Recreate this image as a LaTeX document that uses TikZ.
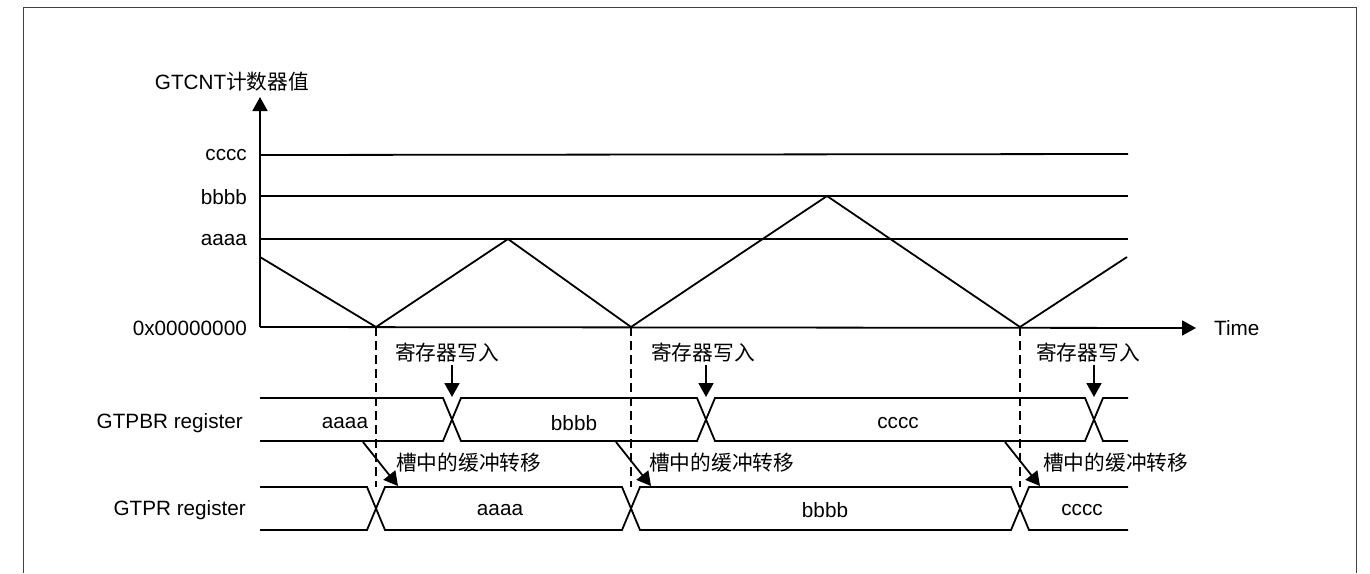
\documentclass[tikz,border=0pt]{standalone}
\usepackage{fontspec}
\setmainfont{Liberation Sans}
\newfontfamily\cjk{Noto Sans CJK SC}
\usetikzlibrary{arrows.meta,positioning,calc}

\begin{document}
\begin{tikzpicture}[
  x=1pt, y=-1pt,
  font=\fontsize{20.7}{24}\selectfont,
  sig/.style={line width=1.8pt, line join=miter},
  dashline/.style={line width=1.8pt, dash pattern=on 9pt off 5pt},
  arr/.style={-{Triangle[length=14pt,width=15pt]}, line width=1.8pt},
  lbl/.style={inner sep=2pt},
  frame/.style={draw=black!75, line width=1pt},
]
\useasboundingbox (0,0) rectangle (1370,573);
\draw[frame] (23,573) -- (23,7) -- (1356,7) -- (1356,573);

% counter axes
\coordinate (origin) at (260,327);
\coordinate (ytip) at (260,97);
\node[lbl] (ylabel) at (232,82) {GTCNT{\cjk 计数器值}};
\node[lbl, anchor=west] (time) at (1212,328) {Time};
\draw[arr] (origin) -- (ytip);
\draw[arr] (origin) -- ([xshift=-16pt]time.west);

% compare levels
\node[lbl, anchor=east] (lvc) at (249,155) {cccc};
\node[lbl, anchor=east] (lvb) at (249,197) {bbbb};
\node[lbl, anchor=east] (lva) at (249,240) {aaaa};
\node[lbl, anchor=east] (lvz) at (249,328) {0x00000000};
\draw[sig] (lvc.east -| origin) -- (1128,154);
\draw[sig] (260,196) -- (1128,196);
\draw[sig] (260,239) -- (1128,239);

% counter value
\coordinate (m1) at (376,327);
\coordinate (m2) at (631,327);
\coordinate (m3) at (1020,327);
\draw[sig] (260,257) -- (m1) -- (508,239) -- (m2) -- (827,196) -- (m3) -- (1127,257);

% registers
\node[lbl, anchor=east] (gtpbr) at (245,423) {GTPBR register};
\node[lbl, anchor=east] (gtpr) at (248,510) {GTPR register};

\draw[sig] (260,398) -- (443,398) -- (461,441) -- (697,441) -- (715,398) -- (1085,398) -- (1103,441) -- (1128,441);
\draw[sig] (260,441) -- (443,441) -- (461,398) -- (697,398) -- (715,441) -- (1085,441) -- (1103,398) -- (1128,398);
\draw[sig] (260,487) -- (367,487) -- (385,530) -- (622,530) -- (640,487) -- (1011,487) -- (1029,530) -- (1128,530);
\draw[sig] (260,530) -- (367,530) -- (385,487) -- (622,487) -- (640,530) -- (1011,530) -- (1029,487) -- (1128,487);

\node[lbl] (pb1) at (345,423) {aaaa};
\node[lbl] (pb2) at (574,423) {bbbb};
\node[lbl] (pb3) at (898,423) {cccc};
\node[lbl] (pr1) at (500,510) {aaaa};
\node[lbl] (pr2) at (825,510) {bbbb};
\node[lbl] (pr3) at (1082,510) {cccc};

% buffer transfer at counter underflow
\draw[dashline] (m1) -- (376,487);
\draw[dashline] (m2) -- (631,487);
\draw[dashline] (m3) -- (1020,487);

% register write
\node[lbl] (wr1) at (447,353) {\cjk 寄存器写入};
\node[lbl] (wr2) at (703,353) {\cjk 寄存器写入};
\node[lbl] (wr3) at (1088,353) {\cjk 寄存器写入};
\coordinate (w1) at (452,397);
\coordinate (w2) at (706,397);
\coordinate (w3) at (1094,397);
\draw[arr] (w1 |- wr1.south) -- (w1);
\draw[arr] (w2 |- wr2.south) -- (w2);
\draw[arr] (w3 |- wr3.south) -- (w3);

\node[lbl, anchor=west] (tr1) at (394,463) {\cjk 槽中的缓冲转移};
\node[lbl, anchor=west] (tr2) at (647,463) {\cjk 槽中的缓冲转移};
\node[lbl, anchor=west] (tr3) at (1041,463) {\cjk 槽中的缓冲转移};
\coordinate (ts1) at (363,442);
\coordinate (te1) at (398,486);
\coordinate (ts2) at (616,442);
\coordinate (te2) at (651,486);
\coordinate (ts3) at (1005,442);
\coordinate (te3) at (1040,486);
\draw[arr] (ts1) -- (te1);
\draw[arr] (ts2) -- (te2);
\draw[arr] (ts3) -- (te3);
\end{tikzpicture}
\end{document}
